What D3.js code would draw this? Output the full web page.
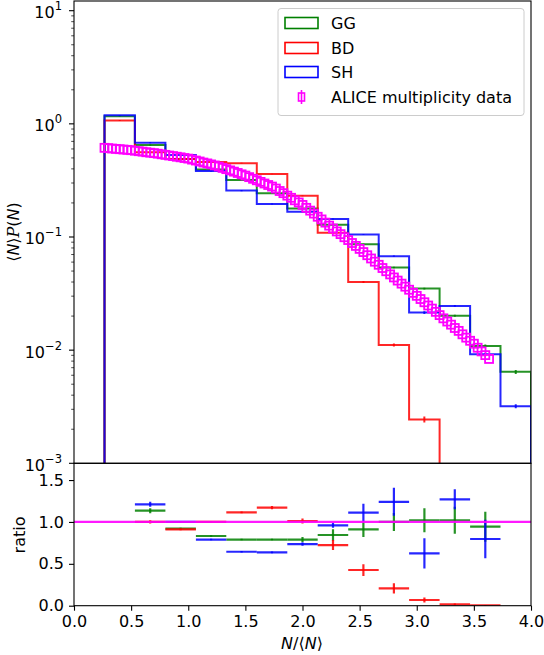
<!DOCTYPE html>
<html>
<head>
<meta charset="utf-8">
<script src="https://cdn.jsdelivr.net/npm/d3@7"></script>
<style>
  body { margin: 0; background: #fff; }
  text { font-family: "DejaVu Sans", sans-serif; fill: #000; }
</style>
</head>
<body>
<script>
// bin edges of the model histograms (N/<N>)
const edges = [0.267, 0.533, 0.8, 1.067, 1.333, 1.6, 1.867, 2.133, 2.4, 2.667, 2.933, 3.2, 3.467, 3.733, 4.0];

// <N>P(N) per bin
const gg = [1.17, 0.65, 0.49, 0.395, 0.319, 0.244, 0.179, 0.128, 0.0863, 0.0537, 0.035, 0.0201, 0.0109, 0.00643];
const bd = [1.07, 0.56, 0.49, 0.46, 0.449, 0.361, 0.231, 0.109, 0.0401, 0.0111, 0.00244, 0.0003, 0.00002, 0];
const sh = [1.19, 0.68, 0.53, 0.384, 0.257, 0.196, 0.167, 0.1445, 0.105, 0.0677, 0.0215, 0.0246, 0.0092, 0.0032];
const ggErr = [0.01, 0.006, 0.005, 0.004, 0.003, 0.002, 0.002, 0.0015, 0.001, 0.0008, 0.0006, 0.0004, 0.0003, 0.00026];
const bdErr = [0.01, 0.006, 0.005, 0.004, 0.003, 0.002, 0.002, 0.0015, 0.0008, 0.00034, 0.00015, 0.00005, 0.00001, 0];
const shErr = [0.01, 0.006, 0.005, 0.004, 0.003, 0.002, 0.002, 0.0015, 0.001, 0.0008, 0.0006, 0.0004, 0.0003, 0.00013];

// ALICE multiplicity data
const dataX = [0.267,0.3,0.333,0.367,0.4,0.433,0.467,0.5,0.533,0.567,0.6,0.633,0.667,0.7,0.733,0.767,0.8,0.833,0.867,0.9,
  0.933,0.967,1.0,1.033,1.067,1.1,1.133,1.167,1.2,1.233,1.267,1.3,1.333,1.367,1.4,1.433,1.467,1.5,1.533,1.567,
  1.6,1.633,1.667,1.7,1.733,1.767,1.8,1.833,1.867,1.9,1.933,1.967,2.0,2.033,2.067,2.1,2.133,2.167,2.2,2.233,
  2.267,2.3,2.333,2.367,2.4,2.433,2.467,2.5,2.533,2.567,2.6,2.633,2.667,2.7,2.733,2.767,2.8,2.833,2.867,2.9,
  2.933,2.967,3.0,3.033,3.067,3.1,3.133,3.167,3.2,3.233,3.267,3.3,3.333,3.367,3.4,3.433,3.467,3.5,3.533,3.567,
  3.6,3.633];
const dataY = [0.614,0.610,0.605,0.601,0.597,0.593,0.589,0.585,0.579,0.573,
  0.568,0.561,0.556,0.551,0.545,0.538,0.532,0.525,0.519,0.512,
  0.506,0.499,0.493,0.483,0.474,0.465,0.455,0.447,0.438,0.429,
  0.419,0.408,0.398,0.388,0.378,0.368,0.358,0.349,0.338,0.327,
  0.317,0.307,0.297,0.288,0.279,0.268,0.255,0.244,0.232,0.222,
  0.211,0.202,0.192,0.181,0.171,0.161,0.151,0.143,0.134,0.126,
  0.119,0.112,0.106,0.0995,0.0940,0.0885,0.0834,0.0785,0.0736,0.0690,
  0.0646,0.0605,0.0568,0.0532,0.0498,0.0467,0.0439,0.0412,0.0387,0.0364,
  0.0342,0.0321,0.0302,0.0283,0.0265,0.0248,0.0233,0.0218,0.0204,0.0191,
  0.0179,0.0168,0.0157,0.0148,0.0138,0.0129,0.0121,0.0114,0.0105,0.00975,
  0.00904,0.00836];

// ratio model / data, bins 2..13
const ratioX = [0.667, 0.933, 1.2, 1.467, 1.733, 2.0, 2.267, 2.533, 2.8, 3.067, 3.333, 3.6];
const ggRatio = [1.134, 0.92, 0.832, 0.79, 0.79, 0.79, 0.844, 0.91, 1.0, 1.02, 1.02, 0.943];
const bdRatio = [1.0, 0.91, 1.0, 1.114, 1.17, 1.01, 0.724, 0.426, 0.207, 0.068, 0.016, 0.003];
const shRatio = [1.21, 1.0, 0.79, 0.644, 0.636, 0.736, 0.96, 1.11, 1.24, 0.625, 1.27, 0.796];
const ggRatioErr = [0.03, 0.01, 0.01, 0.01, 0.01, 0.03, 0.07, 0.09, 0.107, 0.143, 0.16, 0.18];
const bdRatioErr = [0.02, 0.01, 0.01, 0.01, 0.02, 0.03, 0.06, 0.07, 0.06, 0.03, 0.01, 0.005];
const shRatioErr = [0.03, 0.01, 0.01, 0.01, 0.01, 0.02, 0.03, 0.107, 0.167, 0.18, 0.12, 0.23];

const xTicks = [0, 0.5, 1.0, 1.5, 2.0, 2.5, 3.0, 3.5, 4.0];
const logTicks = [["10", "\u22123", 1e-3], ["10", "\u22122", 1e-2], ["10", "\u22121", 1e-1], ["10", "0", 1], ["10", "1", 10]];
const ratioTicks = [0, 0.5, 1.0, 1.5];

const series = [
  { name: "GG", color: "#008000", vals: gg, err: ggErr, r: ggRatio, rErr: ggRatioErr },
  { name: "BD", color: "#ff0000", vals: bd, err: bdErr, r: bdRatio, rErr: bdRatioErr },
  { name: "SH", color: "#0000ff", vals: sh, err: shErr, r: shRatio, rErr: shRatioErr }
];

const W = 544, H = 655;
const pLeft = 74, pRight = 531, pTop = 1, pMid = 463.3, pBottom = 605.7;
const fs = "16px";

const svg = d3.select("body").append("svg").attr("width", W).attr("height", H);

const x = d3.scaleLinear().domain([0, 4]).range([pLeft, pRight]);
const y = d3.scaleLog().domain([1e-3, Math.pow(10, 1.0857)]).range([pMid, pTop]);
const yr = d3.scaleLinear().domain([0, 1.70]).range([pBottom, pMid]);

const defs = svg.append("defs");
defs.append("clipPath").attr("id", "clipTop")
  .append("rect").attr("x", pLeft).attr("y", pTop).attr("width", pRight - pLeft).attr("height", pMid - pTop);
defs.append("clipPath").attr("id", "clipBot")
  .append("rect").attr("x", pLeft).attr("y", pMid).attr("width", pRight - pLeft).attr("height", pBottom - pMid);

const yv = v => v > 0 ? y(v) : pMid + 20;

// ---- top panel: step histograms
const gTop = svg.append("g").attr("clip-path", "url(#clipTop)");

series.forEach(s => {
  const pts = [[x(edges[0]), pMid + 20]];
  s.vals.forEach((v, i) => {
    pts.push([x(edges[i]), yv(v)]);
    pts.push([x(edges[i + 1]), yv(v)]);
  });
  pts.push([x(edges[edges.length - 1]), pMid + 20]);
  gTop.append("path")
    .attr("d", d3.line()(pts))
    .attr("fill", "none")
    .attr("stroke", s.color)
    .attr("stroke-opacity", 0.85)
    .attr("stroke-width", 2);
  gTop.selectAll(null).data(s.vals.map((v, i) => ({ v, e: s.err[i], c: (edges[i] + edges[i + 1]) / 2 })))
    .enter().filter(d => d.v > 0).append("line")
    .attr("x1", d => x(d.c)).attr("x2", d => x(d.c))
    .attr("y1", d => yv(d.v + d.e)).attr("y2", d => yv(Math.max(d.v - d.e, 1e-6)))
    .attr("stroke", s.color).attr("stroke-opacity", 0.85).attr("stroke-width", 2);
});

// data markers
gTop.selectAll(".pt").data(d3.zip(dataX, dataY)).enter().append("rect")
  .attr("class", "pt")
  .attr("x", d => x(d[0]) - 4).attr("y", d => y(d[1]) - 4)
  .attr("width", 8).attr("height", 8)
  .attr("fill", "none").attr("stroke", "#ff00ff").attr("stroke-width", 1.8);

// frame + y axis top
svg.append("rect").attr("x", pLeft).attr("y", pTop).attr("width", pRight - pLeft).attr("height", pMid - pTop)
  .attr("fill", "none").attr("stroke", "#000").attr("stroke-width", 1.1);

const minor = [];
for (let e = -3; e <= 1; e++) for (let m = 2; m <= 9; m++) {
  const v = m * Math.pow(10, e);
  if (v < y.domain()[1]) minor.push(v);
}
svg.selectAll(".minor").data(minor).enter().append("line")
  .attr("x1", pLeft - 2.8).attr("x2", pLeft).attr("y1", d => y(d)).attr("y2", d => y(d))
  .attr("stroke", "#000").attr("stroke-width", 0.7);
svg.selectAll(".major").data(logTicks).enter().append("line")
  .attr("x1", pLeft - 5).attr("x2", pLeft).attr("y1", d => y(d[2])).attr("y2", d => y(d[2]))
  .attr("stroke", "#000").attr("stroke-width", 1.1);
const lt = svg.selectAll(".lt").data(logTicks).enter().append("text")
  .attr("x", pLeft - 12).attr("y", d => y(d[2]) + 7.5)
  .attr("text-anchor", "end").style("font-size", fs);
lt.append("tspan").text(d => d[0]);
lt.append("tspan").attr("dy", -8).style("font-size", "11.5px").text(d => d[1]);

// y label
svg.append("text")
  .attr("transform", "translate(19,232) rotate(-90)")
  .attr("text-anchor", "middle").style("font-size", fs)
  .html('\u27e8<tspan font-style="italic">N</tspan>\u27e9<tspan font-family="DejaVu Serif" font-style="italic">P</tspan>(<tspan font-style="italic">N</tspan>)');

// legend
const lg = svg.append("g");
lg.append("rect").attr("x", 278).attr("y", 8.5).attr("width", 246).attr("height", 107).attr("rx", 3)
  .attr("fill", "#fff").attr("fill-opacity", 0.8).attr("stroke", "#ccc");
const ly = [23, 48, 72, 97];
series.forEach((s, i) => {
  lg.append("rect").attr("x", 285).attr("y", ly[i] - 5.5).attr("width", 33).attr("height", 11)
    .attr("fill", "none").attr("stroke", s.color).attr("stroke-width", 1.6);
  lg.append("text").attr("x", 331).attr("y", ly[i] + 6).style("font-size", fs).text(s.name);
});
lg.append("line").attr("x1", 301.5).attr("x2", 301.5).attr("y1", ly[3] - 7).attr("y2", ly[3] + 7)
  .attr("stroke", "#ff00ff").attr("stroke-width", 1.6);
lg.append("rect").attr("x", 298.5).attr("y", ly[3] - 4).attr("width", 6).attr("height", 8)
  .attr("fill", "none").attr("stroke", "#ff00ff").attr("stroke-width", 1.6);
lg.append("text").attr("x", 331).attr("y", ly[3] + 6).style("font-size", fs).text("ALICE multiplicity data");

// ---- bottom panel: ratios
const gBot = svg.append("g").attr("clip-path", "url(#clipBot)");
series.forEach(s => {
  const rows = s.r.map((r, i) => ({ r, e: s.rErr[i], c: ratioX[i], a: edges[i + 1], b: edges[i + 2] }));
  gBot.selectAll(null).data(rows).enter().append("line")
    .attr("x1", d => x(d.a)).attr("x2", d => x(d.b))
    .attr("y1", d => yr(d.r)).attr("y2", d => yr(d.r))
    .attr("stroke", s.color).attr("stroke-opacity", 0.85).attr("stroke-width", 2.2);
  gBot.selectAll(null).data(rows).enter().append("line")
    .attr("x1", d => x(d.c)).attr("x2", d => x(d.c))
    .attr("y1", d => yr(d.r + d.e)).attr("y2", d => yr(d.r - d.e))
    .attr("stroke", s.color).attr("stroke-opacity", 0.85).attr("stroke-width", 2.2);
});
gBot.append("line").attr("x1", x(0)).attr("x2", x(4)).attr("y1", yr(1)).attr("y2", yr(1))
  .attr("stroke", "#ff00ff").attr("stroke-opacity", 0.9).attr("stroke-width", 2.2);

svg.append("rect").attr("x", pLeft).attr("y", pMid).attr("width", pRight - pLeft).attr("height", pBottom - pMid)
  .attr("fill", "none").attr("stroke", "#000").attr("stroke-width", 1.1);

svg.append("g").attr("transform", `translate(0,${pBottom})`)
  .call(d3.axisBottom(x).tickValues(xTicks).tickFormat(d3.format(".1f")).tickSize(5).tickPadding(5))
  .call(g => g.select(".domain").remove())
  .call(g => g.selectAll("line").attr("stroke-width", 1.1))
  .call(g => g.selectAll("text").style("font-size", fs).attr("font-family", null));
svg.append("g").attr("transform", `translate(${pLeft},0)`)
  .call(d3.axisLeft(yr).tickValues(ratioTicks).tickFormat(d3.format(".1f")).tickSize(5).tickPadding(5))
  .call(g => g.select(".domain").remove())
  .call(g => g.selectAll("line").attr("stroke-width", 1.1))
  .call(g => g.selectAll("text").style("font-size", fs).attr("font-family", null));

svg.append("text").attr("transform", "translate(25,535) rotate(-90)")
  .attr("text-anchor", "middle").style("font-size", fs).text("ratio");
svg.append("text").attr("x", 302).attr("y", 649).attr("text-anchor", "middle").style("font-size", fs)
  .html('<tspan font-style="italic">N</tspan>/\u27e8<tspan font-style="italic">N</tspan>\u27e9');
</script>
</body>
</html>
